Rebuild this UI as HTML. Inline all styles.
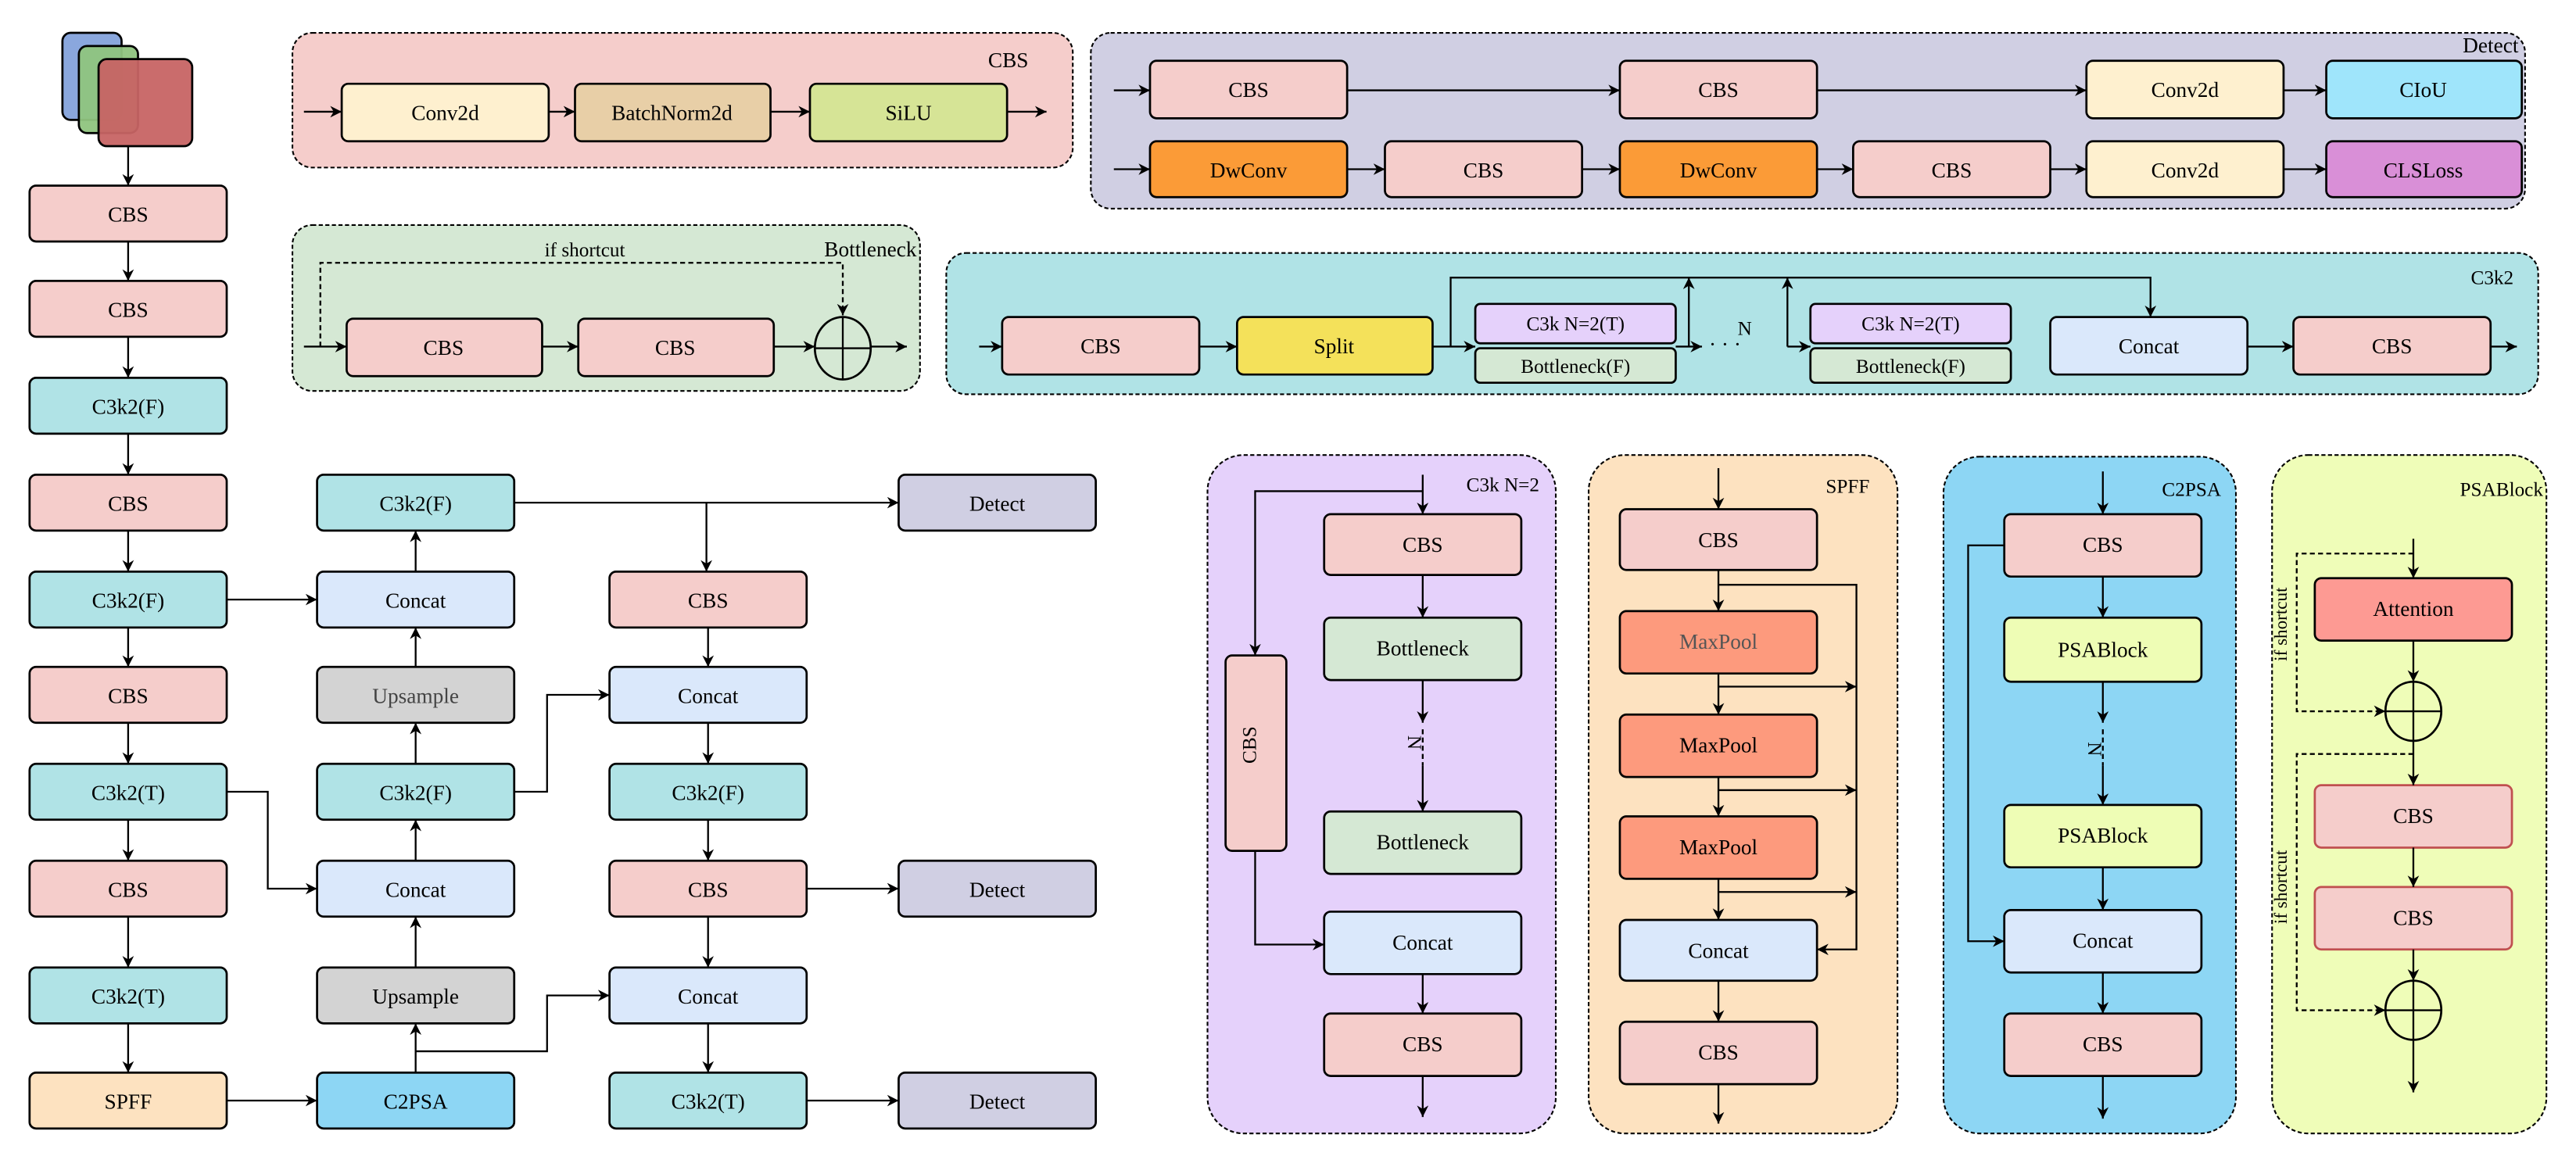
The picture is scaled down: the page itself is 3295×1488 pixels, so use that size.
<!DOCTYPE html>
<html><head><meta charset="utf-8"><style>
html,body{margin:0;padding:0;background:#fff}
svg{display:block;font-family:"Liberation Serif","DejaVu Serif",serif}
text{font-family:"Liberation Serif","DejaVu Serif",serif;font-size:13px;text-anchor:middle;fill:#000}
.t{text-anchor:end}
.b{stroke:#000;stroke-width:1.3}
.l{stroke:#000;stroke-width:1.1;fill:none}
.d{stroke:#000;stroke-width:1.1;fill:none;stroke-dasharray:3,2}
.p{stroke:#000;stroke-width:1;stroke-dasharray:2.5,1.5}
</style></head><body>
<svg width="3295" height="1488" viewBox="0 0 1568 708" preserveAspectRatio="none" xmlns="http://www.w3.org/2000/svg" font-family="Liberation Serif, DejaVu Serif, serif">
<defs>
<marker id="a" viewBox="0 0 10 10" refX="10" refY="5" markerWidth="7" markerHeight="7" orient="auto" markerUnits="userSpaceOnUse"><path d="M0,0 L10,5 L0,10 L3,5 z" fill="#000"/></marker>
</defs>

<!-- input icon -->
<rect x="38" y="20" width="36" height="53" rx="5" fill="#8aa7dd" class="b"/>
<rect x="48" y="28" width="36" height="53" rx="5" fill="#8fc47e" fill-opacity="0.95" class="b"/>
<rect x="60" y="36" width="57" height="53" rx="5" fill="#c76464" fill-opacity="0.95" class="b"/>
<line x1="78" y1="89" x2="78" y2="113" class="l" marker-end="url(#a)"/>

<!-- left column -->
<g>
<rect x="18" y="113" width="120" height="34" rx="4" fill="#f5cdcb" class="b"/><text x="78" y="135">CBS</text>
<rect x="18" y="171" width="120" height="34" rx="4" fill="#f5cdcb" class="b"/><text x="78" y="193">CBS</text>
<rect x="18" y="230" width="120" height="34" rx="4" fill="#b0e3e6" class="b"/><text x="78" y="252">C3k2(F)</text>
<rect x="18" y="289" width="120" height="34" rx="4" fill="#f5cdcb" class="b"/><text x="78" y="311">CBS</text>
<rect x="18" y="348" width="120" height="34" rx="4" fill="#b0e3e6" class="b"/><text x="78" y="370">C3k2(F)</text>
<rect x="18" y="406" width="120" height="34" rx="4" fill="#f5cdcb" class="b"/><text x="78" y="428">CBS</text>
<rect x="18" y="465" width="120" height="34" rx="4" fill="#b0e3e6" class="b"/><text x="78" y="487">C3k2(T)</text>
<rect x="18" y="524" width="120" height="34" rx="4" fill="#f5cdcb" class="b"/><text x="78" y="546">CBS</text>
<rect x="18" y="589" width="120" height="34" rx="4" fill="#b0e3e6" class="b"/><text x="78" y="611">C3k2(T)</text>
<rect x="18" y="653" width="120" height="34" rx="4" fill="#fde2c0" class="b"/><text x="78" y="675">SPFF</text>
<line x1="78" y1="147" x2="78" y2="171" class="l" marker-end="url(#a)"/>
<line x1="78" y1="205" x2="78" y2="230" class="l" marker-end="url(#a)"/>
<line x1="78" y1="264" x2="78" y2="289" class="l" marker-end="url(#a)"/>
<line x1="78" y1="323" x2="78" y2="348" class="l" marker-end="url(#a)"/>
<line x1="78" y1="382" x2="78" y2="406" class="l" marker-end="url(#a)"/>
<line x1="78" y1="440" x2="78" y2="465" class="l" marker-end="url(#a)"/>
<line x1="78" y1="499" x2="78" y2="524" class="l" marker-end="url(#a)"/>
<line x1="78" y1="558" x2="78" y2="589" class="l" marker-end="url(#a)"/>
<line x1="78" y1="623" x2="78" y2="653" class="l" marker-end="url(#a)"/>
</g>

<!-- middle column -->
<rect x="193" y="289" width="120" height="34" rx="4" fill="#b0e3e6" class="b"/><text x="253" y="311">C3k2(F)</text>
<rect x="193" y="348" width="120" height="34" rx="4" fill="#dae8fb" class="b"/><text x="253" y="370">Concat</text>
<rect x="193" y="406" width="120" height="34" rx="4" fill="#d3d3d3" class="b"/><text x="253" y="428" style="fill:#444">Upsample</text>
<rect x="193" y="465" width="120" height="34" rx="4" fill="#b0e3e6" class="b"/><text x="253" y="487">C3k2(F)</text>
<rect x="193" y="524" width="120" height="34" rx="4" fill="#dae8fb" class="b"/><text x="253" y="546">Concat</text>
<rect x="193" y="589" width="120" height="34" rx="4" fill="#d3d3d3" class="b"/><text x="253" y="611">Upsample</text>
<rect x="193" y="653" width="120" height="34" rx="4" fill="#8dd6f4" class="b"/><text x="253" y="675">C2PSA</text>
<line x1="253" y1="653" x2="253" y2="623" class="l" marker-end="url(#a)"/>
<line x1="253" y1="589" x2="253" y2="558" class="l" marker-end="url(#a)"/>
<line x1="253" y1="524" x2="253" y2="499" class="l" marker-end="url(#a)"/>
<line x1="253" y1="465" x2="253" y2="440" class="l" marker-end="url(#a)"/>
<line x1="253" y1="406" x2="253" y2="382" class="l" marker-end="url(#a)"/>
<line x1="253" y1="348" x2="253" y2="323" class="l" marker-end="url(#a)"/>

<!-- right column -->
<rect x="371" y="348" width="120" height="34" rx="4" fill="#f5cdcb" class="b"/><text x="431" y="370">CBS</text>
<rect x="371" y="406" width="120" height="34" rx="4" fill="#dae8fb" class="b"/><text x="431" y="428">Concat</text>
<rect x="371" y="465" width="120" height="34" rx="4" fill="#b0e3e6" class="b"/><text x="431" y="487">C3k2(F)</text>
<rect x="371" y="524" width="120" height="34" rx="4" fill="#f5cdcb" class="b"/><text x="431" y="546">CBS</text>
<rect x="371" y="589" width="120" height="34" rx="4" fill="#dae8fb" class="b"/><text x="431" y="611">Concat</text>
<rect x="371" y="653" width="120" height="34" rx="4" fill="#b0e3e6" class="b"/><text x="431" y="675">C3k2(T)</text>
<line x1="431" y1="382" x2="431" y2="406" class="l" marker-end="url(#a)"/>
<line x1="431" y1="440" x2="431" y2="465" class="l" marker-end="url(#a)"/>
<line x1="431" y1="499" x2="431" y2="524" class="l" marker-end="url(#a)"/>
<line x1="431" y1="558" x2="431" y2="589" class="l" marker-end="url(#a)"/>
<line x1="431" y1="623" x2="431" y2="653" class="l" marker-end="url(#a)"/>

<rect x="547" y="289" width="120" height="34" rx="4" fill="#d0cfe3" class="b"/><text x="607" y="311">Detect</text>
<rect x="547" y="524" width="120" height="34" rx="4" fill="#d0cfe3" class="b"/><text x="607" y="546">Detect</text>
<rect x="547" y="653" width="120" height="34" rx="4" fill="#d0cfe3" class="b"/><text x="607" y="675">Detect</text>

<!-- cross connections -->
<line x1="138" y1="365" x2="193" y2="365" class="l" marker-end="url(#a)"/>
<polyline points="138,482 163,482 163,541 193,541" class="l" marker-end="url(#a)"/>
<line x1="138" y1="670" x2="193" y2="670" class="l" marker-end="url(#a)"/>
<polyline points="253,640 333,640 333,606 371,606" class="l" marker-end="url(#a)"/>
<polyline points="313,482 333,482 333,423 371,423" class="l" marker-end="url(#a)"/>
<line x1="313" y1="306" x2="547" y2="306" class="l" marker-end="url(#a)"/>
<line x1="430" y1="306" x2="430" y2="348" class="l" marker-end="url(#a)"/>
<line x1="491" y1="541" x2="547" y2="541" class="l" marker-end="url(#a)"/>
<line x1="491" y1="670" x2="547" y2="670" class="l" marker-end="url(#a)"/>

<!-- CBS panel -->
<rect x="178" y="20" width="475" height="82" rx="12" fill="#f5cdcb" class="p"/>
<text x="626" y="41" class="t">CBS</text>
<rect x="208" y="51" width="126" height="35" rx="4" fill="#fef0cf" class="b"/><text x="271" y="73">Conv2d</text>
<rect x="350" y="51" width="119" height="35" rx="4" fill="#e8cfa7" class="b"/><text x="409" y="73">BatchNorm2d</text>
<rect x="493" y="51" width="120" height="35" rx="4" fill="#d6e496" class="b"/><text x="553" y="73">SiLU</text>
<line x1="185" y1="68" x2="208" y2="68" class="l" marker-end="url(#a)"/>
<line x1="334" y1="68" x2="350" y2="68" class="l" marker-end="url(#a)"/>
<line x1="469" y1="68" x2="493" y2="68" class="l" marker-end="url(#a)"/>
<line x1="613" y1="68" x2="637" y2="68" class="l" marker-end="url(#a)"/>

<!-- Detect panel -->
<rect x="664" y="20" width="873" height="107" rx="12" fill="#d0cfe3" class="p"/>
<text x="1533" y="32" class="t">Detect</text>
<rect x="700" y="37" width="120" height="35" rx="4" fill="#f5cdcb" class="b"/><text x="760" y="59">CBS</text>
<rect x="986" y="37" width="120" height="35" rx="4" fill="#f5cdcb" class="b"/><text x="1046" y="59">CBS</text>
<rect x="1270" y="37" width="120" height="35" rx="4" fill="#fef0cf" class="b"/><text x="1330" y="59">Conv2d</text>
<rect x="1416" y="37" width="119" height="35" rx="4" fill="#9fe5fb" class="b"/><text x="1475" y="59">CIoU</text>
<line x1="678" y1="55" x2="700" y2="55" class="l" marker-end="url(#a)"/>
<line x1="820" y1="55" x2="986" y2="55" class="l" marker-end="url(#a)"/>
<line x1="1106" y1="55" x2="1270" y2="55" class="l" marker-end="url(#a)"/>
<line x1="1390" y1="55" x2="1416" y2="55" class="l" marker-end="url(#a)"/>
<rect x="700" y="86" width="120" height="34" rx="4" fill="#fb9b37" class="b"/><text x="760" y="108">DwConv</text>
<rect x="843" y="86" width="120" height="34" rx="4" fill="#f5cdcb" class="b"/><text x="903" y="108">CBS</text>
<rect x="986" y="86" width="120" height="34" rx="4" fill="#fb9b37" class="b"/><text x="1046" y="108">DwConv</text>
<rect x="1128" y="86" width="120" height="34" rx="4" fill="#f5cdcb" class="b"/><text x="1188" y="108">CBS</text>
<rect x="1270" y="86" width="120" height="34" rx="4" fill="#fef0cf" class="b"/><text x="1330" y="108">Conv2d</text>
<rect x="1416" y="86" width="119" height="34" rx="4" fill="#d98fd7" class="b"/><text x="1475" y="108">CLSLoss</text>
<line x1="678" y1="103" x2="700" y2="103" class="l" marker-end="url(#a)"/>
<line x1="820" y1="103" x2="843" y2="103" class="l" marker-end="url(#a)"/>
<line x1="963" y1="103" x2="986" y2="103" class="l" marker-end="url(#a)"/>
<line x1="1106" y1="103" x2="1128" y2="103" class="l" marker-end="url(#a)"/>
<line x1="1248" y1="103" x2="1270" y2="103" class="l" marker-end="url(#a)"/>
<line x1="1390" y1="103" x2="1416" y2="103" class="l" marker-end="url(#a)"/>

<!-- Bottleneck panel -->
<rect x="178" y="137" width="382" height="101" rx="12" fill="#d5e8d4" class="p"/>
<text x="558" y="156" class="t">Bottleneck</text>
<text x="356" y="156" style="font-size:12px">if shortcut</text>
<polyline points="195,211 195,160 513,160 513,192" class="d" marker-end="url(#a)"/>
<rect x="211" y="194" width="119" height="35" rx="4" fill="#f5cdcb" class="b"/><text x="270" y="216">CBS</text>
<rect x="352" y="194" width="119" height="35" rx="4" fill="#f5cdcb" class="b"/><text x="411" y="216">CBS</text>
<ellipse cx="513" cy="212" rx="17" ry="19" fill="none" class="b"/>
<line x1="513" y1="193" x2="513" y2="231" class="l"/><line x1="496" y1="212" x2="530" y2="212" class="l"/>
<line x1="185" y1="211" x2="211" y2="211" class="l" marker-end="url(#a)"/>
<line x1="330" y1="211" x2="352" y2="211" class="l" marker-end="url(#a)"/>
<line x1="471" y1="211" x2="496" y2="211" class="l" marker-end="url(#a)"/>
<line x1="530" y1="211" x2="552" y2="211" class="l" marker-end="url(#a)"/>

<!-- C3k2 panel -->
<rect x="576" y="154" width="969" height="86" rx="12" fill="#b0e3e6" class="p"/>
<text x="1530" y="173" class="t" style="font-size:12px">C3k2</text>
<rect x="610" y="193" width="120" height="35" rx="4" fill="#f5cdcb" class="b"/><text x="670" y="215">CBS</text>
<rect x="753" y="193" width="119" height="35" rx="4" fill="#f4e15a" class="b"/><text x="812" y="215">Split</text>
<rect x="898" y="185" width="122" height="24" rx="3" fill="#e5d1fb" class="b"/><text x="959" y="201" style="font-size:12px">C3k N=2(T)</text>
<rect x="898" y="212" width="122" height="21" rx="3" fill="#d5e8d4" class="b"/><text x="959" y="227" style="font-size:12px">Bottleneck(F)</text>
<rect x="1102" y="185" width="122" height="24" rx="3" fill="#e5d1fb" class="b"/><text x="1163" y="201" style="font-size:12px">C3k N=2(T)</text>
<rect x="1102" y="212" width="122" height="21" rx="3" fill="#d5e8d4" class="b"/><text x="1163" y="227" style="font-size:12px">Bottleneck(F)</text>
<rect x="1248" y="193" width="120" height="35" rx="4" fill="#dae8fb" class="b"/><text x="1308" y="215">Concat</text>
<rect x="1396" y="193" width="120" height="35" rx="4" fill="#f5cdcb" class="b"/><text x="1456" y="215">CBS</text>
<line x1="596" y1="211" x2="610" y2="211" class="l" marker-end="url(#a)"/>
<line x1="730" y1="211" x2="753" y2="211" class="l" marker-end="url(#a)"/>
<line x1="872" y1="211" x2="898" y2="211" class="l" marker-end="url(#a)"/>
<line x1="1020" y1="211" x2="1036" y2="211" class="l" marker-end="url(#a)"/>
<text x="1050" y="214">· · ·</text>
<text x="1062" y="204" style="font-size:12px">N</text>
<line x1="1088" y1="211" x2="1102" y2="211" class="l" marker-end="url(#a)"/>
<polyline points="883,211 883,169 1309,169 1309,193" class="l" marker-end="url(#a)"/>
<line x1="1028" y1="211" x2="1028" y2="169" class="l" marker-end="url(#a)"/>
<line x1="1088" y1="211" x2="1088" y2="169" class="l" marker-end="url(#a)"/>
<line x1="1368" y1="211" x2="1396" y2="211" class="l" marker-end="url(#a)"/>
<line x1="1516" y1="211" x2="1532" y2="211" class="l" marker-end="url(#a)"/>

<!-- C3k N=2 panel -->
<rect x="735" y="277" width="212" height="413" rx="22" fill="#e5d1fb" class="p"/>
<text x="937" y="299" class="t" style="font-size:12px">C3k N=2</text>
<rect x="806" y="313" width="120" height="37" rx="4" fill="#f5cdcb" class="b"/><text x="866" y="336">CBS</text>
<rect x="806" y="376" width="120" height="38" rx="4" fill="#d5e8d4" class="b"/><text x="866" y="399">Bottleneck</text>
<rect x="806" y="494" width="120" height="38" rx="4" fill="#d5e8d4" class="b"/><text x="866" y="517">Bottleneck</text>
<rect x="806" y="555" width="120" height="38" rx="4" fill="#dae8fb" class="b"/><text x="866" y="578">Concat</text>
<rect x="806" y="617" width="120" height="38" rx="4" fill="#f5cdcb" class="b"/><text x="866" y="640">CBS</text>
<rect x="746" y="399" width="37" height="119" rx="4" fill="#f5cdcb" class="b"/>
<text x="769" y="458" transform="rotate(-90 764.5 458)" style="font-size:12px">CBS</text>
<line x1="866" y1="289" x2="866" y2="313" class="l" marker-end="url(#a)"/>
<polyline points="866,299 764,299 764,399" class="l" marker-end="url(#a)"/>
<polyline points="764,518 764,575 806,575" class="l" marker-end="url(#a)"/>
<line x1="866" y1="350" x2="866" y2="376" class="l" marker-end="url(#a)"/>
<line x1="866" y1="414" x2="866" y2="440" class="l" marker-end="url(#a)"/>
<line x1="866" y1="444" x2="866" y2="466" class="d"/>
<line x1="866" y1="466" x2="866" y2="494" class="l" marker-end="url(#a)"/>
<text x="861" y="448" transform="rotate(90 857 448)" style="font-size:12px">N</text>
<line x1="866" y1="593" x2="866" y2="617" class="l" marker-end="url(#a)"/>
<line x1="866" y1="655" x2="866" y2="680" class="l" marker-end="url(#a)"/>

<!-- SPFF panel -->
<rect x="967" y="277" width="188" height="413" rx="22" fill="#fde2c0" class="p"/>
<text x="1138" y="300" class="t" style="font-size:12px">SPFF</text>
<rect x="986" y="310" width="120" height="37" rx="4" fill="#f5cdcb" class="b"/><text x="1046" y="333">CBS</text>
<rect x="986" y="372" width="120" height="38" rx="4" fill="#fd9a7d" class="b"/><text x="1046" y="395" style="fill:#555">MaxPool</text>
<rect x="986" y="435" width="120" height="38" rx="4" fill="#fd9a7d" class="b"/><text x="1046" y="458">MaxPool</text>
<rect x="986" y="497" width="120" height="38" rx="4" fill="#fd9a7d" class="b"/><text x="1046" y="520">MaxPool</text>
<rect x="986" y="560" width="120" height="37" rx="4" fill="#dae8fb" class="b"/><text x="1046" y="583">Concat</text>
<rect x="986" y="622" width="120" height="38" rx="4" fill="#f5cdcb" class="b"/><text x="1046" y="645">CBS</text>
<line x1="1046" y1="285" x2="1046" y2="310" class="l" marker-end="url(#a)"/>
<line x1="1046" y1="347" x2="1046" y2="372" class="l" marker-end="url(#a)"/>
<line x1="1046" y1="410" x2="1046" y2="435" class="l" marker-end="url(#a)"/>
<line x1="1046" y1="473" x2="1046" y2="497" class="l" marker-end="url(#a)"/>
<line x1="1046" y1="535" x2="1046" y2="560" class="l" marker-end="url(#a)"/>
<line x1="1046" y1="597" x2="1046" y2="622" class="l" marker-end="url(#a)"/>
<line x1="1046" y1="660" x2="1046" y2="684" class="l" marker-end="url(#a)"/>
<polyline points="1046,356 1130,356 1130,578 1106,578" class="l" marker-end="url(#a)"/>
<line x1="1046" y1="418" x2="1130" y2="418" class="l" marker-end="url(#a)"/>
<line x1="1046" y1="481" x2="1130" y2="481" class="l" marker-end="url(#a)"/>
<line x1="1046" y1="543" x2="1130" y2="543" class="l" marker-end="url(#a)"/>

<!-- C2PSA panel -->
<rect x="1183" y="278" width="178" height="412" rx="22" fill="#8dd6f4" class="p"/>
<text x="1352" y="302" class="t" style="font-size:12px">C2PSA</text>
<rect x="1220" y="313" width="120" height="38" rx="4" fill="#f5cdcb" class="b"/><text x="1280" y="336">CBS</text>
<rect x="1220" y="376" width="120" height="39" rx="4" fill="#eefdb5" class="b"/><text x="1280" y="400">PSABlock</text>
<rect x="1220" y="490" width="120" height="38" rx="4" fill="#eefdb5" class="b"/><text x="1280" y="513">PSABlock</text>
<rect x="1220" y="554" width="120" height="38" rx="4" fill="#dae8fb" class="b"/><text x="1280" y="577">Concat</text>
<rect x="1220" y="617" width="120" height="38" rx="4" fill="#f5cdcb" class="b"/><text x="1280" y="640">CBS</text>
<line x1="1280" y1="287" x2="1280" y2="313" class="l" marker-end="url(#a)"/>
<line x1="1280" y1="351" x2="1280" y2="376" class="l" marker-end="url(#a)"/>
<line x1="1280" y1="415" x2="1280" y2="440" class="l" marker-end="url(#a)"/>
<line x1="1280" y1="444" x2="1280" y2="466" class="d"/>
<line x1="1280" y1="466" x2="1280" y2="490" class="l" marker-end="url(#a)"/>
<text x="1275" y="452" transform="rotate(90 1271 452)" style="font-size:12px">N</text>
<line x1="1280" y1="528" x2="1280" y2="554" class="l" marker-end="url(#a)"/>
<line x1="1280" y1="592" x2="1280" y2="617" class="l" marker-end="url(#a)"/>
<line x1="1280" y1="655" x2="1280" y2="681" class="l" marker-end="url(#a)"/>
<polyline points="1220,332 1198,332 1198,573 1220,573" class="l" marker-end="url(#a)"/>

<!-- PSABlock panel -->
<rect x="1383" y="277" width="167" height="413" rx="22" fill="#effdb8" class="p"/>
<text x="1548" y="302" class="t" style="font-size:12px">PSABlock</text>
<rect x="1409" y="352" width="120" height="38" rx="4" fill="#fd9a93" class="b"/><text x="1469" y="375">Attention</text>
<rect x="1409" y="478" width="120" height="38" rx="4" fill="#f5cdcb" stroke="#c05050" stroke-width="1.3"/><text x="1469" y="501">CBS</text>
<rect x="1409" y="540" width="120" height="38" rx="4" fill="#f5cdcb" stroke="#c05050" stroke-width="1.3"/><text x="1469" y="563">CBS</text>
<ellipse cx="1469" cy="433" rx="17" ry="18" fill="none" class="b"/>
<line x1="1469" y1="415" x2="1469" y2="451" class="l"/><line x1="1452" y1="433" x2="1486" y2="433" class="l"/>
<ellipse cx="1469" cy="615" rx="17" ry="18" fill="none" class="b"/>
<line x1="1469" y1="597" x2="1469" y2="633" class="l"/><line x1="1452" y1="615" x2="1486" y2="615" class="l"/>
<line x1="1469" y1="328" x2="1469" y2="352" class="l" marker-end="url(#a)"/>
<line x1="1469" y1="390" x2="1469" y2="415" class="l" marker-end="url(#a)"/>
<line x1="1469" y1="451" x2="1469" y2="478" class="l" marker-end="url(#a)"/>
<line x1="1469" y1="516" x2="1469" y2="540" class="l" marker-end="url(#a)"/>
<line x1="1469" y1="578" x2="1469" y2="597" class="l" marker-end="url(#a)"/>
<line x1="1469" y1="633" x2="1469" y2="665" class="l" marker-end="url(#a)"/>
<polyline points="1469,337 1398,337 1398,433 1452,433" class="d" marker-end="url(#a)"/>
<polyline points="1469,459 1398,459 1398,615 1452,615" class="d" marker-end="url(#a)"/>
<text x="1392" y="380" transform="rotate(-90 1392 380)" style="font-size:11px">if shortcut</text>
<text x="1392" y="540" transform="rotate(-90 1392 540)" style="font-size:11px">if shortcut</text>
</svg>
</body></html>
